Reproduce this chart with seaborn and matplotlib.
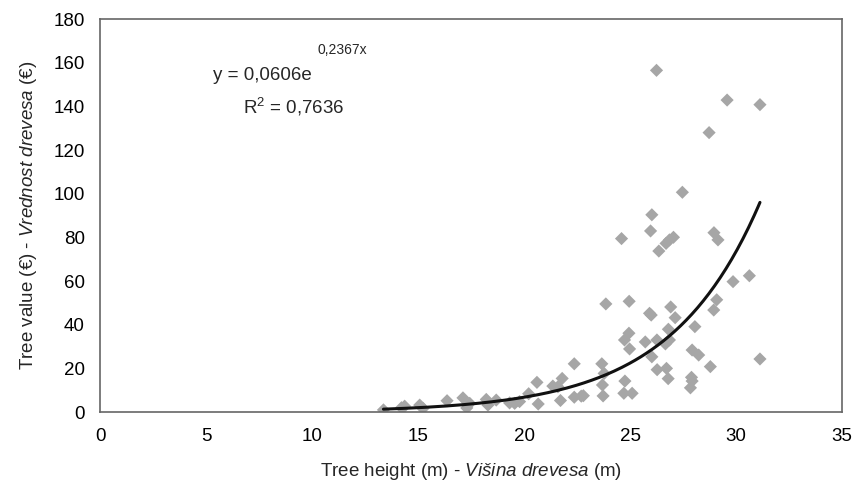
import numpy as np
import pandas as pd
import matplotlib.pyplot as plt
import seaborn as sns

# tree height (m) and tree value (EUR)
height = [13.37, 14.22, 14.37, 15.08, 15.24, 16.37, 17.12, 17.44, 17.30, 18.22,
          18.30, 18.69, 19.32, 19.56, 19.79, 20.22, 20.61, 20.67, 21.36, 21.60,
          21.72, 21.80, 22.37, 22.37, 22.70, 22.80, 23.67, 23.78, 23.70, 23.73,
          23.86, 24.60, 24.74, 24.76, 24.71, 24.95, 24.96, 24.98, 25.10, 25.72,
          25.92, 26.00, 25.97, 26.03, 26.03, 26.25, 26.27, 26.28, 26.36, 26.67,
          26.86, 26.72, 26.80, 26.70, 26.86, 27.05, 26.92, 26.81, 27.13, 27.47,
          27.85, 27.90, 27.93, 27.93, 28.06, 28.24, 28.73, 28.79, 28.96, 29.15,
          28.95, 29.09, 29.58, 29.86, 30.63, 31.13, 31.13]
value = [1.1, 2.1, 2.8, 3.3, 1.8, 5.3, 6.6, 4.1, 2.0, 5.9,
         3.3, 5.6, 4.3, 4.1, 4.9, 8.5, 13.7, 3.8, 12.0, 11.7,
         5.4, 15.5, 22.2, 6.9, 7.4, 7.6, 22.2, 17.8, 12.5, 7.5,
         49.6, 79.5, 33.1, 14.3, 8.7, 36.2, 50.8, 29.0, 8.7, 32.2,
         45.3, 44.5, 83.0, 90.4, 25.4, 156.5, 33.1, 19.5, 73.8, 31.3,
         33.1, 20.1, 15.4, 77.3, 78.9, 80.1, 48.2, 38.0, 43.3, 100.7,
         11.2, 16.0, 14.3, 28.5, 39.2, 26.2, 128.0, 20.9, 82.2, 78.9,
         46.8, 51.5, 142.9, 59.8, 62.5, 140.8, 24.4]

# exponential trendline as printed on the chart
fit_a = 0.0606
fit_b = 0.2367
eq_text = "y = 0,0606e"
exp_text = "0,2367x"
r2_text = "0,7636"

x_ticks = [0, 5, 10, 15, 20, 25, 30, 35]
y_ticks = [0, 20, 40, 60, 80, 100, 120, 140, 160, 180]

df = pd.DataFrame({"height": height, "value": value})
trend_x = np.linspace(min(height), max(height), 200)
trend = pd.DataFrame({"height": trend_x, "value": fit_a * np.exp(fit_b * trend_x)})

sns.set_style("white")
plt.rcParams["font.family"] = ["Liberation Sans", "DejaVu Sans"]
plt.rcParams["mathtext.fontset"] = "custom"
plt.rcParams["mathtext.rm"] = "Liberation Sans"
plt.rcParams["mathtext.it"] = "Liberation Sans:italic"

fig = plt.figure(figsize=(8.57, 5.0), dpi=100)
ax = fig.add_axes([0.1167, 0.1754, 0.8658, 0.7866])

sns.scatterplot(data=df, x="height", y="value", ax=ax, marker="D", s=45,
                color="#a6a6a6", edgecolor="none", zorder=2)
sns.lineplot(data=trend, x="height", y="value", ax=ax, color="#111111",
             linewidth=2.2, zorder=3)

ax.set_xlim(0, 35)
ax.set_ylim(0, 180)
ax.set_xticks(x_ticks)
ax.set_yticks(y_ticks)
ax.tick_params(axis="both", direction="out", length=5, width=1, color="#666666",
               labelsize=13.5, labelcolor="black", pad=6)
for sp in ax.spines.values():
    sp.set_color("#666666")
    sp.set_linewidth(1.2)

ax.set_xlabel(r"Tree height (m) - $\mathit{Višina\ drevesa}$ (m)", fontsize=13.5, labelpad=12)
ax.set_ylabel(r"Tree value (€) - $\mathit{Vrednost\ drevesa}$ (€)", fontsize=13.5, labelpad=10)

# trendline equation and R^2
fig.text(213 / 857, 1 - 75 / 500, eq_text, fontsize=13.5, va="center", ha="left")
fig.text(318 / 857, 1 - 50 / 500, exp_text, fontsize=10, va="center", ha="left")
fig.text(243 / 857, 1 - 107 / 500, r"R$^2$ = " + r2_text, fontsize=13.5, va="center", ha="left")

fig.savefig("out.png", dpi=100)
